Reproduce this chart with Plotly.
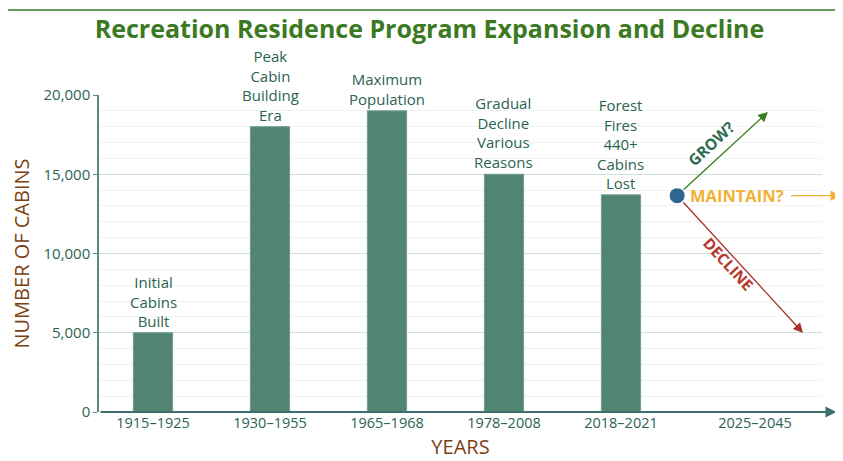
import plotly.graph_objects as go

# ---- data ----
periods = ["1915–1925", "1930–1955", "1965–1968", "1978–2008", "2018–2021", "2025–2045"]
period_pos = [0, 1, 2, 3, 4, 5.145]
bar_values = [5000, 18000, 19000, 15000, 13700]
bar_labels = [
    ["Initial", "Cabins", "Built"],
    ["Peak", "Cabin", "Building", "Era"],
    ["Maximum", "Population"],
    ["Gradual", "Decline", "Various", "Reasons"],
    ["Forest", "Fires", "440+", "Cabins", "Lost"],
]
y_ticks = [0, 5000, 10000, 15000, 20000]
y_ticktext = ["0", "5,000", "10,000", "15,000", "20,000"]

# scenario (future) arrows
origin = (4.48, 13650)
grow_end = (5.256, 18930)
maintain_start = (5.44, 13650)
maintain_end = (5.88, 13650)
decline_end = (5.556, 4990)

BAR = "#528571"
TEAL = "#2b6352"
BROWN = "#7b3f12"
FONT = "Open Sans"

fig = go.Figure()
fig.add_trace(go.Bar(
    x=period_pos[:5], y=bar_values, width=0.335,
    marker=dict(color=BAR, line=dict(color="#6f9c89", width=1)),
    hoverinfo="skip", showlegend=False,
))
fig.add_trace(go.Scatter(
    x=[origin[0]], y=[origin[1]], mode="markers",
    marker=dict(color="#2f6690", size=15),
    hoverinfo="skip", showlegend=False, cliponaxis=False,
))

ann = []
# bar labels
for xv, yv, lines in zip(period_pos, bar_values, bar_labels):
    ann.append(dict(x=xv, y=yv, xref="x", yref="y", text="<br>".join(lines), showarrow=False,
                    yanchor="bottom", yshift=0,
                    font=dict(family=FONT, size=15, color=TEAL)))

# x axis arrow
ann.append(dict(x=5.84, y=0, ax=-0.4615, ay=0, xref="x", yref="y", axref="x", ayref="y",
                text="", showarrow=True, arrowhead=2, arrowsize=1.2, arrowwidth=1.8,
                arrowcolor="#3d706a", standoff=0, startstandoff=0))
# grow
ann.append(dict(x=grow_end[0], y=grow_end[1], ax=origin[0], ay=origin[1], xref="x", yref="y",
                axref="x", ayref="y", text="", showarrow=True, arrowhead=2, arrowsize=1.5,
                arrowwidth=1.3, arrowcolor="#3a7d1f", standoff=0, startstandoff=7))
# maintain
ann.append(dict(x=maintain_end[0], y=maintain_end[1], ax=maintain_start[0], ay=maintain_start[1],
                xref="x", yref="y", axref="x", ayref="y", text="", showarrow=True, arrowhead=2,
                arrowsize=1.6, arrowwidth=1.3, arrowcolor="#f2b134", standoff=0))
# decline
ann.append(dict(x=decline_end[0], y=decline_end[1], ax=origin[0], ay=origin[1], xref="x", yref="y",
                axref="x", ayref="y", text="", showarrow=True, arrowhead=2, arrowsize=1.5,
                arrowwidth=1.3, arrowcolor="#a83224", standoff=0, startstandoff=7))
# scenario texts
ann.append(dict(x=4.775, y=16950, xref="x", yref="y", text="<b>GROW?</b>", showarrow=False,
                textangle=-42.7, font=dict(family=FONT, size=15.5, color="#2d6a4f")))
ann.append(dict(x=4.57, y=origin[1], xref="x", yref="y", text="<b>MAINTAIN?</b>", showarrow=False,
                xanchor="left", yanchor="middle", font=dict(family=FONT, size=16.5, color="#f2b134")))
ann.append(dict(x=4.92, y=9350, xref="x", yref="y", text="<b>DECLINE</b>", showarrow=False,
                textangle=47.4, font=dict(family=FONT, size=15.5, color="#b5392a")))

# page body adds an 8px offset, so margins are shifted to compensate
fig.update_layout(
    width=843, height=461,
    margin=dict(l=91, r=29, t=87, b=57, autoexpand=False),
    paper_bgcolor="white", plot_bgcolor="white",
    title=dict(text="<b>Recreation Residence Program Expansion and Decline</b>",
               x=0.5, xanchor="center", y=0.954, yanchor="middle", automargin=False,
               font=dict(family=FONT, size=25, color="#3b7a22")),
    font=dict(family=FONT, color=TEAL),
    annotations=ann,
    shapes=[dict(type="line", xref="paper", yref="paper", x0=-0.3, x1=1.05, y0=1.268, y1=1.268,
                 line=dict(color="#3b7a22", width=1.6))],
    xaxis=dict(range=[-0.4615, 5.718], tickvals=period_pos, ticktext=periods, automargin=False,
               showgrid=False, zeroline=False, showline=False, ticks="",
               tickfont=dict(family=FONT, size=14.5, color=TEAL),
               title=dict(text="YEARS", font=dict(family=FONT, size=20, color=BROWN), standoff=9)),
    yaxis=dict(range=[0, 20000], tickvals=y_ticks, ticktext=y_ticktext, automargin=False,
               showgrid=True, gridcolor="#cfe2da", gridwidth=1.2,
               minor=dict(dtick=1000, showgrid=True, gridcolor="#eef3f1", gridwidth=1),
               zeroline=False, showline=True, linecolor="#5a8a80", linewidth=1.5,
               ticks="outside", ticklen=4, tickcolor="#5a8a80",
               tickfont=dict(family=FONT, size=15, color=TEAL),
               title=dict(text="NUMBER OF CABINS", font=dict(family=FONT, size=20, color=BROWN), standoff=10)),
)

fig.write_html("out.html")
